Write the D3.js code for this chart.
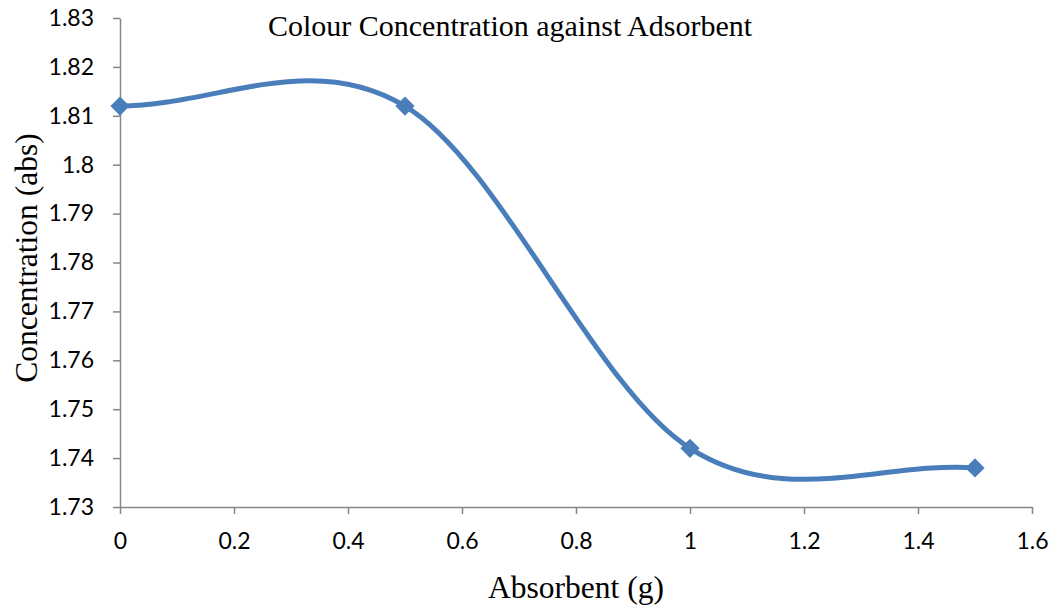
<!DOCTYPE html>
<html>
<head>
<meta charset="utf-8">
<script src="https://cdn.jsdelivr.net/npm/d3@7"></script>
<style>
  body { margin: 0; background: #fff; }
  svg { display: block; }
</style>
</head>
<body>
<svg width="1058" height="607"></svg>
<script>
const width = 1058;
const height = 607;
const margin = { top: 18, right: 26, bottom: 100, left: 120 };

// values
const absorbent = [0, 0.5, 1, 1.5];
const concentration = [1.812, 1.812, 1.742, 1.738];
const xTicks = [0, 0.2, 0.4, 0.6, 0.8, 1, 1.2, 1.4, 1.6];
const yTicks = [1.73, 1.74, 1.75, 1.76, 1.77, 1.78, 1.79, 1.8, 1.81, 1.82, 1.83];

const lineColor = "#4a7ebb";
const axisColor = "#868686";
const tickFont = "23px Lato, 'Open Sans', sans-serif";
const serif = "'Liberation Serif', 'Times New Roman', serif";

const svg = d3.select("svg");

const x = d3.scaleLinear()
    .domain([0, 1.6])
    .range([margin.left, width - margin.right]);
const y = d3.scaleLinear()
    .domain([1.73, 1.83])
    .range([height - margin.bottom, margin.top]);

const fmt = (d) => String(+d.toFixed(2));

// axes
svg.append("g")
    .attr("transform", `translate(0,${y(1.73)})`)
    .call(d3.axisBottom(x).tickValues(xTicks).tickFormat(fmt).tickSize(7).tickSizeOuter(0))
    .call((g) => g.selectAll("path, line").attr("stroke", axisColor).attr("stroke-width", 1.5))
    .call((g) => g.selectAll("text")
        .attr("fill", "#000")
        .attr("y", 42)
        .attr("dy", 0)
        .style("font", tickFont));

svg.append("g")
    .attr("transform", `translate(${x(0)},0)`)
    .call(d3.axisLeft(y).tickValues(yTicks).tickFormat(fmt).tickSize(7).tickSizeOuter(0))
    .call((g) => g.selectAll("path, line").attr("stroke", axisColor).attr("stroke-width", 1.5))
    .call((g) => g.selectAll("text")
        .attr("fill", "#000")
        .attr("x", -26)
        .style("font", tickFont));

// smoothed line, Excel style: Catmull-Rom with reflected end points
const pts = absorbent.map((d, i) => [x(d), y(concentration[i])]);
const n = pts.length;
const ext = [
    [2 * pts[0][0] - pts[1][0], 2 * pts[0][1] - pts[1][1]],
    ...pts,
    [2 * pts[n - 1][0] - pts[n - 2][0], 2 * pts[n - 1][1] - pts[n - 2][1]],
];
const smooth = d3.path();
smooth.moveTo(pts[0][0], pts[0][1]);
for (let i = 1; i < ext.length - 2; i++) {
    const [p0, p1, p2, p3] = [ext[i - 1], ext[i], ext[i + 1], ext[i + 2]];
    smooth.bezierCurveTo(
        p1[0] + (p2[0] - p0[0]) / 6, p1[1] + (p2[1] - p0[1]) / 6,
        p2[0] - (p3[0] - p1[0]) / 6, p2[1] - (p3[1] - p1[1]) / 6,
        p2[0], p2[1]
    );
}

svg.append("path")
    .attr("fill", "none")
    .attr("stroke", lineColor)
    .attr("stroke-width", 5)
    .attr("stroke-linecap", "round")
    .attr("d", smooth.toString());

// diamond markers
svg.append("g")
    .selectAll("path")
    .data(pts)
    .join("path")
    .attr("d", d3.symbol(d3.symbolSquare, 185))
    .attr("transform", (d) => `translate(${d[0]},${d[1]}) rotate(45)`)
    .attr("fill", lineColor);

// titles
svg.append("text")
    .attr("x", 510)
    .attr("y", 36)
    .attr("text-anchor", "middle")
    .style("font", `30px ${serif}`)
    .text("Colour Concentration against Adsorbent");

svg.append("text")
    .attr("x", (x(0) + x(1.6)) / 2)
    .attr("y", 598)
    .attr("text-anchor", "middle")
    .style("font", `31.5px ${serif}`)
    .text("Absorbent (g)");

svg.append("text")
    .attr("transform", "translate(37,258) rotate(-90)")
    .attr("text-anchor", "middle")
    .style("font", `31.5px ${serif}`)
    .text("Concentration (abs)");
</script>
</body>
</html>
